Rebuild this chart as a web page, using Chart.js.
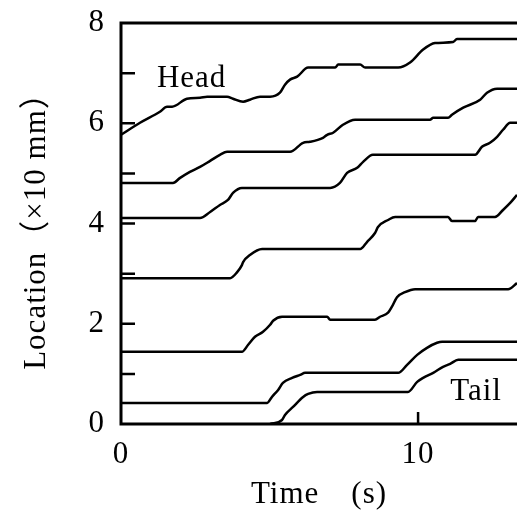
<!DOCTYPE html>
<html>
<head>
<meta charset="utf-8">
<script src="https://cdn.jsdelivr.net/npm/chart.js@4.4.1/dist/chart.umd.min.js"></script>
<style>
  html, body { margin: 0; padding: 0; background: #fff; }
  canvas { display: block; }
</style>
</head>
<body>
<canvas id="chart" width="517" height="516"></canvas>
<script>
// [time (s), location (x10 mm)], top curve (head) to bottom (tail)
const head = [[0,5.77],[0.64,6.01],[1.31,6.23],[1.55,6.33],[1.72,6.33],[2.22,6.49],[2.66,6.51],[2.9,6.53],
  [3.57,6.53],[3.77,6.49],[4.11,6.43],[4.34,6.47],[4.68,6.53],[5.02,6.53],[5.35,6.61],[5.52,6.77],[5.69,6.87],
  [5.93,6.93],[6.3,7.11],[7.21,7.11],[7.31,7.17],[8.05,7.17],[8.22,7.11],[9.33,7.11],[9.73,7.21],[10.17,7.47],
  [10.57,7.6],[11.18,7.62],[11.31,7.68],[13.33,7.68]];
const seg2 = [[0,4.81],[1.75,4.81],[1.99,4.91],[2.32,5.03],[2.66,5.13],[3.0,5.25],[3.33,5.37],[3.57,5.43],
  [5.69,5.43],[6.13,5.61],[6.36,5.63],[6.8,5.71],[6.94,5.77],[7.14,5.81],[7.47,5.97],[7.88,6.07],[10.4,6.07],
  [10.51,6.11],[11.01,6.11],[11.14,6.17],[11.52,6.31],[12.09,6.47],[12.32,6.61],[12.66,6.69],[13.33,6.69]];
const seg3 = [[0,4.11],[2.66,4.11],[3.0,4.23],[3.33,4.37],[3.6,4.47],[3.77,4.61],[4.07,4.71],[7.04,4.71],
  [7.37,4.81],[7.61,5.01],[7.95,5.11],[8.15,5.23],[8.48,5.37],[11.92,5.37],[12.15,5.53],[12.42,5.61],
  [12.66,5.73],[12.86,5.87],[13.1,6.01],[13.33,6.01]];
const seg4 = [[0,2.91],[3.67,2.91],[3.91,3.03],[4.07,3.17],[4.11,3.23],[4.34,3.37],[4.75,3.49],[8.05,3.49],
  [8.28,3.63],[8.55,3.81],[8.65,3.93],[8.99,4.07],[9.23,4.13],[11.01,4.13],[11.14,4.05],[11.92,4.05],
  [12.02,4.13],[12.59,4.13],[12.86,4.27],[13.1,4.41],[13.33,4.57]];
const seg5 = [[0,1.44],[4.07,1.44],[4.28,1.58],[4.51,1.74],[4.78,1.84],[5.02,1.98],[5.12,2.06],[5.42,2.14],
  [6.94,2.14],[7.04,2.08],[8.55,2.08],[8.72,2.14],[8.99,2.22],[9.12,2.34],[9.29,2.53],[9.56,2.63],[9.9,2.69],
  [13.03,2.69],[13.33,2.81]];
const seg6 = [[0,0.42],[4.92,0.42],[5.08,0.54],[5.29,0.68],[5.45,0.82],[5.76,0.92],[6.03,0.98],[6.2,1.02],
  [9.33,1.02],[9.63,1.18],[9.97,1.38],[10.3,1.52],[10.64,1.62],[10.81,1.64],[13.33,1.64]];
const tail = [[5.02,0],[5.42,0.08],[5.52,0.18],[5.79,0.34],[6.13,0.54],[6.3,0.6],[6.6,0.64],[9.66,0.64],
  [9.97,0.84],[10.17,0.92],[10.51,1.02],[10.84,1.14],[11.08,1.2],[11.35,1.28],[13.33,1.28]];

const curves = [head, seg2, seg3, seg4, seg5, seg6, tail];
const xLabels = [0, 10];
const yLabels = [0, 2, 4, 6, 8];
const curveNames = ['Head', 'Tail'];

const FONT = '"Liberation Serif", "Noto Sans CJK JP", serif';
const font = { family: FONT, size: 31 };

// where the two names sit, in data units (left, baseline)
const namePos = [[1.21, 6.73], [11.08, 0.48]];

const frame = {
  id: 'frame',
  beforeDraw(chart) {
    const ctx = chart.ctx;
    ctx.save();
    ctx.fillStyle = '#fff';
    ctx.fillRect(0, 0, chart.width, chart.height);
    ctx.restore();
    ctx.letterSpacing = '1px';
  },
  afterDraw(chart) {
    const { ctx, chartArea: a, scales: { x, y } } = chart;
    ctx.save();
    ctx.strokeStyle = '#000';
    ctx.lineWidth = 3;
    ctx.beginPath();
    ctx.moveTo(a.right, a.top);
    ctx.lineTo(a.left, a.top);
    ctx.lineTo(a.left, a.bottom);
    ctx.lineTo(a.right, a.bottom);
    ctx.stroke();

    // inward tick marks
    ctx.lineWidth = 2.5;
    ctx.beginPath();
    y.ticks.forEach(t => {
      if (t.value <= y.min || t.value >= y.max) return;
      const py = y.getPixelForValue(t.value);
      ctx.moveTo(a.left, py);
      ctx.lineTo(a.left + 14, py);
    });
    x.ticks.forEach(t => {
      if (t.value <= x.min || t.value >= x.max) return;
      const px = x.getPixelForValue(t.value);
      ctx.moveTo(px, a.bottom);
      ctx.lineTo(px, a.bottom - 12);
    });
    ctx.stroke();

    ctx.fillStyle = '#000';
    ctx.font = '31px ' + FONT;
    ctx.textBaseline = 'alphabetic';
    ctx.textAlign = 'left';
    curveNames.forEach((name, i) => {
      ctx.fillText(name, x.getPixelForValue(namePos[i][0]), y.getPixelForValue(namePos[i][1]));
    });
    ctx.restore();
  }
};

new Chart(document.getElementById('chart'), {
  type: 'line',
  data: {
    datasets: curves.map(c => ({
      data: c.map(([t, v]) => ({ x: t, y: v })),
      borderColor: '#000',
      borderWidth: 2.5,
      pointRadius: 0,
      fill: false,
      cubicInterpolationMode: 'monotone'
    }))
  },
  options: {
    responsive: false,
    animation: false,
    devicePixelRatio: 1,
    layout: { padding: { top: 23, right: 0, bottom: 0, left: 0 } },
    plugins: { legend: { display: false }, tooltip: { enabled: false } },
    scales: {
      x: {
        type: 'linear',
        min: 0,
        max: 13.33,
        grid: { display: false, drawTicks: false },
        border: { display: false },
        ticks: {
          stepSize: 10,
          includeBounds: false,
          autoSkip: false,
          maxRotation: 0,
          padding: 12,
          color: '#000',
          font,
          callback: v => xLabels.includes(v) ? String(v) : ''
        },
        title: { display: true, text: 'Time\u3000(s)', color: '#000', font, padding: { top: 0, bottom: 3 } },
        afterFit(s) { s.height = 92; s.paddingLeft = 0; s.paddingRight = 0; }
      },
      y: {
        min: 0,
        max: 8,
        grid: { display: false, drawTicks: false },
        border: { display: false },
        ticks: {
          stepSize: 1,
          padding: 16,
          color: '#000',
          font,
          callback: v => yLabels.includes(v) ? String(v) : ''
        },
        title: { display: true, text: 'Location（×10 mm）', color: '#000', font, padding: { top: 18, bottom: 0 } },
        afterFit(s) { s.width = 121; s.paddingTop = 0; s.paddingBottom = 0; }
      }
    }
  },
  plugins: [frame]
});
</script>
</body>
</html>
